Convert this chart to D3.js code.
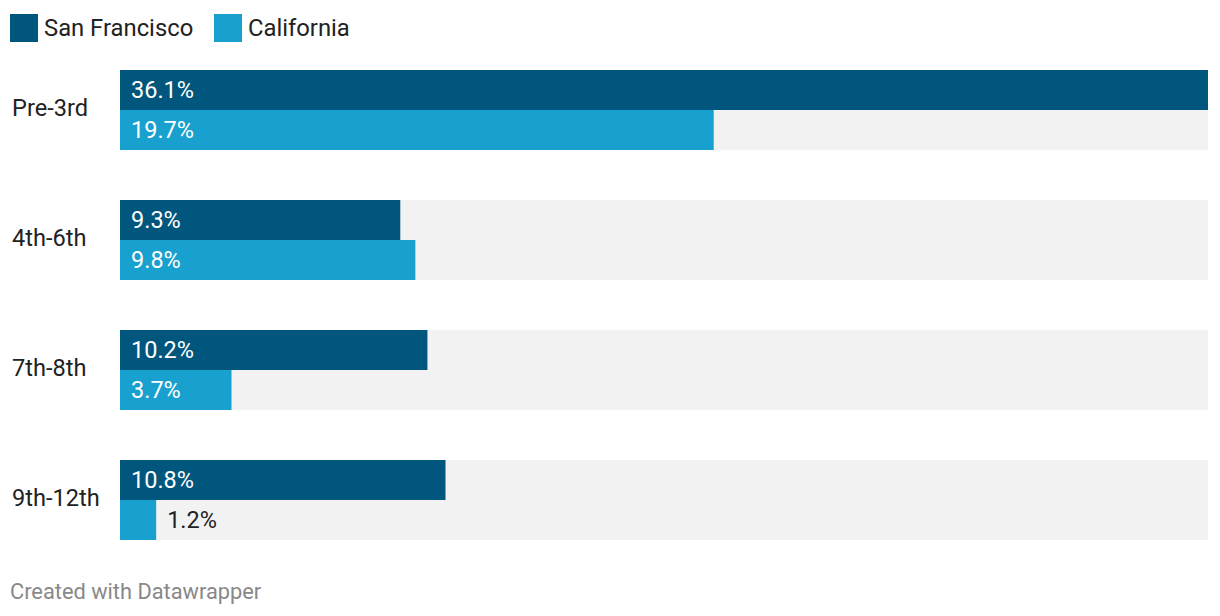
<!DOCTYPE html>
<html><head><meta charset="utf-8">
<script src="https://cdn.jsdelivr.net/npm/d3@7"></script>
<style>
body{margin:0;background:#fff;font-family:Roboto,"Noto Sans",sans-serif;}
</style></head>
<body><svg id="c" width="1220" height="616"></svg>
<script>
const categories = ["Pre-3rd","4th-6th","7th-8th","9th-12th"];
const seriesNames = ["San Francisco","California"];
const sanFrancisco = [36.1, 9.3, 10.2, 10.8];
const california = [19.7, 9.8, 3.7, 1.2];
const colors = ["#00567c","#18a1cf"];

const svg = d3.select("#c");
const x = d3.scaleLinear().domain([0, d3.max(sanFrancisco.concat(california))]).range([120, 1208]);
const yGroup = d3.scaleBand().domain(categories).range([70, 540]).paddingInner(50/130).paddingOuter(0);
const ySub = d3.scaleBand().domain(seriesNames).range([0, yGroup.bandwidth()]);

// legend
const leg = svg.append("g");
const legX = [10, 214];
seriesNames.forEach((s,i)=>{
  leg.append("rect").attr("x",legX[i]).attr("y",14).attr("width",28).attr("height",28).attr("fill",colors[i]);
  leg.append("text").attr("x",legX[i]+34).attr("y",36).attr("font-size",23.8).attr("fill","#222").text(s);
});

const data = [sanFrancisco, california];
categories.forEach((c,ci)=>{
  const g = svg.append("g").attr("transform",`translate(0,${yGroup(c)})`);
  g.append("rect").attr("x",x(0)).attr("y",0).attr("width",x.range()[1]-x(0)).attr("height",yGroup.bandwidth()).attr("fill","#f2f2f2");
  g.append("text").attr("x",12).attr("y",yGroup.bandwidth()/2+6).attr("font-size",23.6).attr("fill","#222").text(c);
  seriesNames.forEach((s,si)=>{
    const v = data[si][ci];
    const w = x(v)-x(0);
    g.append("rect").attr("x",x(0)).attr("y",ySub(s)).attr("width",w).attr("height",ySub.bandwidth()).attr("fill",colors[si]);
    const label = v.toFixed(1)+"%";
    const inside = w > 60;
    g.append("text").attr("x", inside ? x(0)+11 : x(v)+11)
      .attr("y", ySub(s)+ySub.bandwidth()/2+8)
      .attr("font-size",23.5).attr("fill", inside ? "#fff" : "#222").text(label);
  });
});

svg.append("text").attr("x",10).attr("y",599).attr("font-size",21.8).attr("fill","#888").text("Created with Datawrapper");
</script></body></html>
